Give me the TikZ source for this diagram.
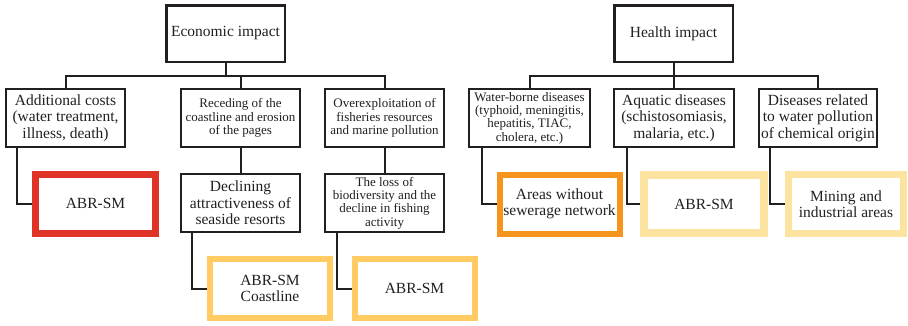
\documentclass[tikz,border=0pt]{standalone}
\usepackage{fontspec}
\setmainfont{Liberation Serif}
\newfontfamily\treefont{Liberation Serif}
\usetikzlibrary{positioning}
\definecolor{ink}{HTML}{231F20}
\definecolor{abrred}{HTML}{E03327}
\definecolor{sewerorange}{HTML}{F7941E}
\definecolor{coastyellow}{HTML}{FFCB62}
\definecolor{paleyellow}{HTML}{FCE3A0}

\begin{document}
\begin{tikzpicture}[
  x=1pt,y=1pt,
  node distance=25pt,
  bigtxt/.style={font=\treefont\fontsize{15.5}{16.5}\selectfont},
  smalltxt/.style={font=\treefont\fontsize{13}{13.3}\selectfont},
  head/.style={draw=ink,text=ink,line width=2.5pt,minimum width=118.5pt,minimum height=56.5pt,inner sep=1pt,align=center,bigtxt},
  box/.style={draw=ink,text=ink,line width=2pt,minimum width=119pt,minimum height=58pt,inner sep=1pt,align=center},
  zone/.style={text=ink,line width=6pt,minimum width=120pt,minimum height=59pt,inner sep=1pt,align=center,bigtxt},
  link/.style={draw=ink,line width=2pt}
]
  \useasboundingbox (0,0) rectangle (908,-325);

  % two impact trees
  \node[head] (econ) at (225.5,-33.5) {Economic impact};
  \node[head] (health) at (673.5,-33.5) {Health impact};

  \node[box,bigtxt] (addcost) at (65.5,-118) {Additional costs\\(water treatment,\\illness, death)};
  \node[box,smalltxt] (receding) at (240.5,-118) {Receding of the\\coastline and erosion\\of the pages};
  \node[box,smalltxt] (overexpl) at (384.5,-118) {Overexploitation of\\fisheries resources\\and marine pollution};
  \node[box,smalltxt,minimum width=121pt] (waterborne) at (529.5,-118) {Water-borne diseases\\(typhoid, meningitis,\\hepatitis, TIAC,\\cholera, etc.)};
  \node[box,bigtxt,minimum width=120pt] (aquatic) at (674,-118) {Aquatic diseases\\(schistosomiasis,\\malaria, etc.)};
  \node[box,bigtxt,minimum width=118pt] (chemical) at (818,-118) {Diseases related\\to water pollution\\of chemical origin};

  \node[box,bigtxt,below=of receding] (declining) {Declining\\attractiveness of\\seaside resorts};
  \node[box,smalltxt,below=of overexpl] (lossbio) {The loss of\\biodiversity and the\\decline in fishing\\activity};

  % affected areas
  \node[zone,draw=abrred,line width=7pt] (abr1) at (95.5,-203.5) {ABR-SM};
  \node[zone,draw=sewerorange] (sewer) at (559.5,-204) {Areas without\\sewerage network};
  \node[zone,draw=paleyellow,line width=8pt,minimum height=58pt] (abr3) at (704,-204) {ABR-SM};
  \node[zone,draw=paleyellow,line width=7pt,minimum width=115pt] (mining) at (846,-204) {Mining and\\industrial areas};
  \node[zone,draw=coastyellow] (coast) at (270,-288.5) {ABR-SM\\Coastline};
  \node[zone,draw=coastyellow] (abr2) at (414.5,-288.5) {ABR-SM};

  % branches
  \coordinate (ebus) at ([yshift=-13pt]econ.south);
  \draw[link] (econ.south) -- (ebus);
  \draw[link] (addcost.north) |- (ebus) -| (overexpl.north);
  \draw[link] (receding.north) -- (receding.north |- ebus);

  \coordinate (hbus) at ([yshift=-13pt]health.south);
  \draw[link] (health.south) -- (hbus);
  \draw[link] (waterborne.north) |- (hbus) -| (chemical.north);
  \draw[link] (aquatic.north) -- (aquatic.north |- hbus);

  \draw[link] (receding) -- (declining);
  \draw[link] (overexpl) -- (lossbio);
  \draw[link] ([xshift=12pt]addcost.south west) |- (abr1.west);
  \draw[link] ([xshift=12pt]declining.south west) |- (coast.west);
  \draw[link] ([xshift=13pt]lossbio.south west) |- (abr2.west);
  \draw[link] ([xshift=14pt]waterborne.south west) |- (sewer.west);
  \draw[link] ([xshift=14pt]aquatic.south west) |- (abr3.west);
  \draw[link] ([xshift=12pt]chemical.south west) |- (mining.west);
\end{tikzpicture}
\end{document}
